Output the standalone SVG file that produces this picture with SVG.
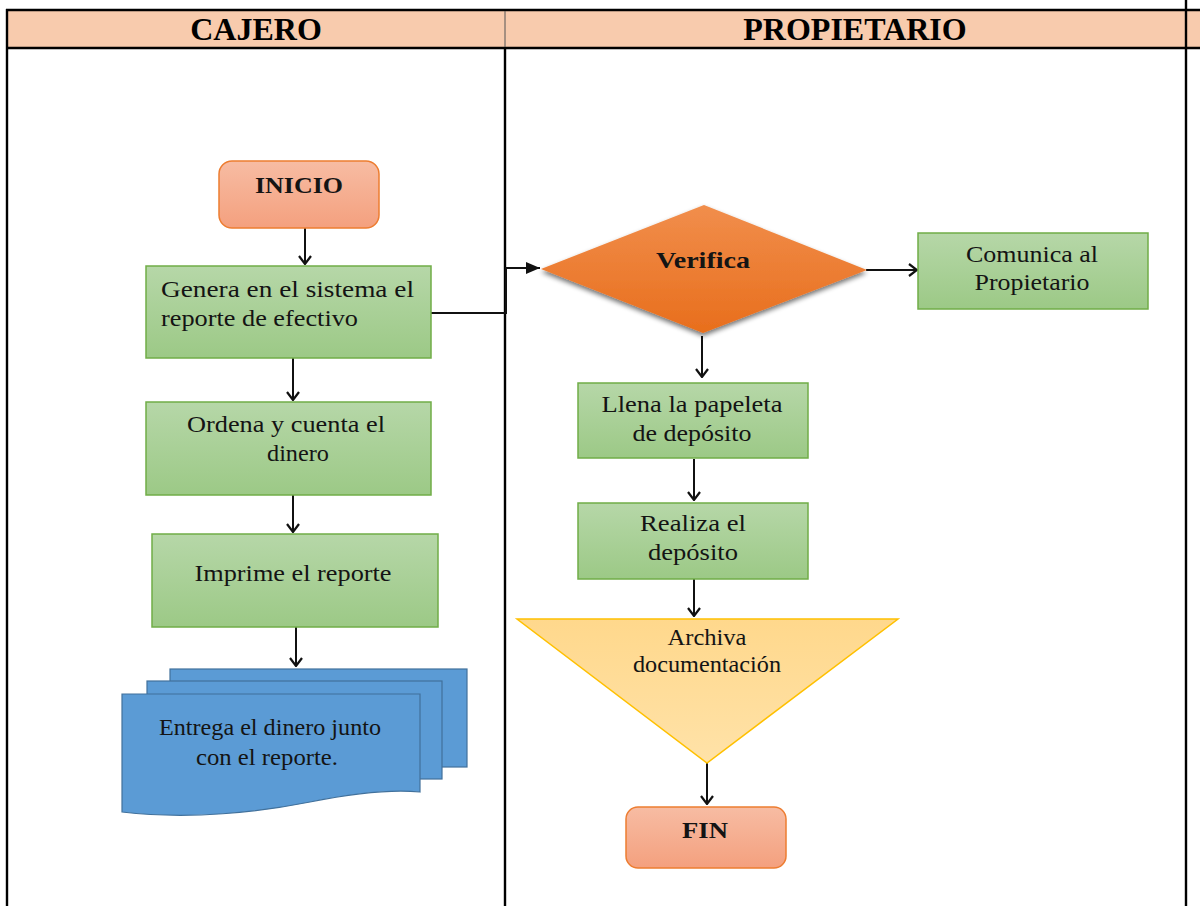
<svg xmlns="http://www.w3.org/2000/svg" width="1200" height="906" viewBox="0 0 1200 906">
  <style>
    .hdr { font-family: "Liberation Serif", "Times New Roman", serif; font-weight: bold; font-size: 32px; fill: #000; text-anchor: middle; }
    .txt { font-family: "Liberation Serif", "Times New Roman", serif; font-size: 23px; fill: #141414; }
    .mid { text-anchor: middle; }
    .bold { font-weight: bold; font-size: 24px; }
    .proc { fill: url(#gGreen); stroke: #70AD47; stroke-width: 1.5; }
    .term { fill: url(#gSalmon); stroke: #ED7D31; stroke-width: 1.5; }
    .doc { fill: #5B9BD5; stroke: #41719C; stroke-width: 1.2; }
    .conn { fill: none; stroke: #111; stroke-width: 2; }
    .rule { stroke: #000; stroke-width: 2.4; }
  </style>
  <defs>
    <linearGradient id="gGreen" x1="0" y1="0" x2="0" y2="1">
      <stop offset="0" stop-color="#B6D7A8"/>
      <stop offset="1" stop-color="#9CC986"/>
    </linearGradient>
    <linearGradient id="gSalmon" x1="0" y1="0" x2="0" y2="1">
      <stop offset="0" stop-color="#F7BCA3"/>
      <stop offset="1" stop-color="#F4A07E"/>
    </linearGradient>
    <linearGradient id="gOrange" x1="0" y1="0" x2="0" y2="1">
      <stop offset="0" stop-color="#F18E4C"/>
      <stop offset="1" stop-color="#E86E1C"/>
    </linearGradient>
    <linearGradient id="gYellow" x1="0" y1="0" x2="0" y2="1">
      <stop offset="0" stop-color="#FFD88C"/>
      <stop offset="1" stop-color="#FFE2A8"/>
    </linearGradient>
    <filter id="shadow" x="-10%" y="-10%" width="120%" height="130%">
      <feGaussianBlur in="SourceAlpha" stdDeviation="2.5"/>
      <feOffset dx="0" dy="3" result="b"/>
      <feComponentTransfer><feFuncA type="linear" slope="0.55"/></feComponentTransfer>
      <feMerge><feMergeNode/><feMergeNode in="SourceGraphic"/></feMerge>
    </filter>
    <marker id="open" viewBox="0 0 10 14" refX="9" refY="7" markerWidth="10" markerHeight="14" markerUnits="userSpaceOnUse" orient="auto">
      <path d="M1,1 L9,7 L1,13" fill="none" stroke="#111" stroke-width="2.2"/>
    </marker>
    <marker id="solid" viewBox="0 0 14 12" refX="14" refY="6" markerWidth="14" markerHeight="12" markerUnits="userSpaceOnUse" orient="auto">
      <path d="M0,0 L14,6 L0,12 z" fill="#111"/>
    </marker>
  </defs>

  <rect width="1200" height="906" fill="#fff"/>

  <!-- swimlane table -->
  <g id="table">
    <rect x="7" y="10" width="1193" height="38" fill="#F8CBAD"/>
    <line class="rule" x1="6" y1="10" x2="1200" y2="10"/>
    <line class="rule" x1="6" y1="48" x2="1200" y2="48"/>
    <line class="rule" x1="7" y1="9" x2="7" y2="906"/>
    <line class="rule" x1="1186" y1="0" x2="1186" y2="906"/>
    <line x1="505" y1="11" x2="505" y2="47" stroke="#555" stroke-width="1"/>
    <line class="rule" x1="505" y1="48" x2="505" y2="906" stroke-width="2"/>
    <text class="hdr" x="256" y="40">CAJERO</text>
    <text class="hdr" x="855" y="40">PROPIETARIO</text>
  </g>

  <!-- connectors -->
  <g id="connectors">
    <line class="conn" x1="305" y1="228" x2="305" y2="264" marker-end="url(#open)"/>
    <line class="conn" x1="293" y1="358" x2="293" y2="400" marker-end="url(#open)"/>
    <line class="conn" x1="293" y1="495" x2="293" y2="532" marker-end="url(#open)"/>
    <line class="conn" x1="296" y1="627" x2="296" y2="666" marker-end="url(#open)"/>
    <polyline class="conn" points="431,313 506,313 506,268 540,268" marker-end="url(#solid)"/>
    <line class="conn" x1="866" y1="270" x2="917" y2="270" marker-end="url(#open)"/>
    <line class="conn" x1="702" y1="336" x2="702" y2="377" marker-end="url(#open)"/>
    <line class="conn" x1="694" y1="459" x2="694" y2="500" marker-end="url(#open)"/>
    <line class="conn" x1="694" y1="579" x2="694" y2="616" marker-end="url(#open)"/>
    <line class="conn" x1="707" y1="763" x2="707" y2="804" marker-end="url(#open)"/>
  </g>

  <g id="inicio">
    <rect class="term" x="219" y="161" width="160" height="67" rx="13"/>
    <text class="txt bold mid" x="299" y="193" textLength="88" lengthAdjust="spacingAndGlyphs">INICIO</text>
  </g>

  <g id="genera">
    <rect class="proc" x="146" y="266" width="285" height="92"/>
    <text class="txt" x="161" y="297" textLength="253" lengthAdjust="spacingAndGlyphs">Genera en el sistema el</text>
    <text class="txt" x="161" y="326" textLength="197" lengthAdjust="spacingAndGlyphs">reporte de efectivo</text>
  </g>

  <g id="ordena">
    <rect class="proc" x="146" y="402" width="285" height="93"/>
    <text class="txt mid" x="286" y="432" textLength="198" lengthAdjust="spacingAndGlyphs">Ordena y cuenta el</text>
    <text class="txt mid" x="298" y="461" textLength="62" lengthAdjust="spacingAndGlyphs">dinero</text>
  </g>

  <g id="imprime">
    <rect class="proc" x="152" y="534" width="286" height="93"/>
    <text class="txt mid" x="293" y="581" textLength="197" lengthAdjust="spacingAndGlyphs">Imprime el reporte</text>
  </g>

  <g id="entrega">
    <rect class="doc" x="170" y="669" width="297" height="98"/>
    <rect class="doc" x="147" y="681" width="295" height="98"/>
    <path class="doc" d="M122,694 L420,694 L420,792 C390,789 350,794 310,802 C260,812 190,820 122,812 Z"/>
    <text class="txt" x="159" y="735" textLength="222" lengthAdjust="spacingAndGlyphs">Entrega el dinero junto</text>
    <text class="txt" x="196" y="765" textLength="142" lengthAdjust="spacingAndGlyphs">con el reporte.</text>
  </g>

  <g id="verifica">
    <polygon points="541,269 704,205 867,270 703,333" fill="url(#gOrange)" filter="url(#shadow)"/>
    <text class="txt bold mid" x="703" y="268" textLength="94" lengthAdjust="spacingAndGlyphs">Verifica</text>
  </g>

  <g id="comunica">
    <rect class="proc" x="918" y="233" width="230" height="76"/>
    <text class="txt mid" x="1032" y="262" textLength="132" lengthAdjust="spacingAndGlyphs">Comunica al</text>
    <text class="txt mid" x="1032" y="290" textLength="115" lengthAdjust="spacingAndGlyphs">Propietario</text>
  </g>

  <g id="llena">
    <rect class="proc" x="578" y="383" width="230" height="75"/>
    <text class="txt mid" x="692" y="412" textLength="181" lengthAdjust="spacingAndGlyphs">Llena la papeleta</text>
    <text class="txt mid" x="692" y="441" textLength="119" lengthAdjust="spacingAndGlyphs">de depósito</text>
  </g>

  <g id="realiza">
    <rect class="proc" x="578" y="503" width="230" height="76"/>
    <text class="txt mid" x="693" y="531" textLength="106" lengthAdjust="spacingAndGlyphs">Realiza el</text>
    <text class="txt mid" x="693" y="560" textLength="90" lengthAdjust="spacingAndGlyphs">depósito</text>
  </g>

  <g id="archiva">
    <polygon points="517,619 898,619 707,763" fill="url(#gYellow)" stroke="#FFC000" stroke-width="1.5"/>
    <text class="txt mid" x="707" y="645" textLength="79" lengthAdjust="spacingAndGlyphs">Archiva</text>
    <text class="txt mid" x="707" y="672" textLength="148" lengthAdjust="spacingAndGlyphs">documentación</text>
  </g>

  <g id="fin">
    <rect class="term" x="626" y="807" width="160" height="61" rx="12"/>
    <text class="txt bold mid" x="705" y="838" textLength="46" lengthAdjust="spacingAndGlyphs">FIN</text>
  </g>
</svg>
